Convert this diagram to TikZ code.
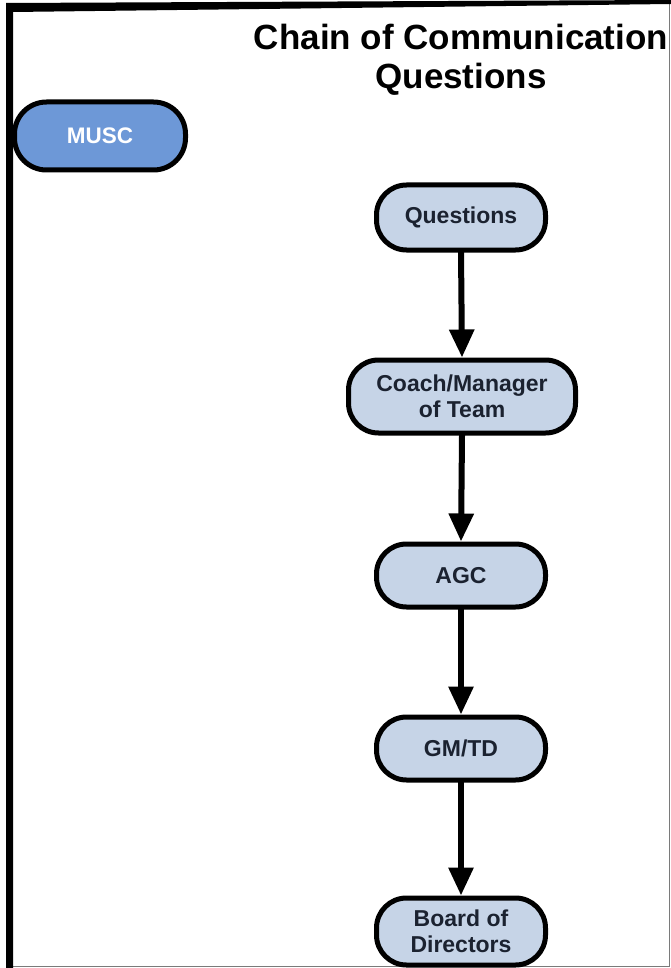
\documentclass[tikz,border=0pt]{standalone}
\usepackage{fontspec}
\setmainfont{Liberation Sans}
\usetikzlibrary{arrows.meta}
\definecolor{lightfill}{HTML}{C6D4E7}
\definecolor{muscfill}{HTML}{6D98D7}
\definecolor{navytext}{HTML}{1B2230}
\definecolor{framegray}{HTML}{7A7A7A}
\tikzset{
  chainbox/.style={draw=black, line width=5pt, fill=lightfill, rounded corners=30pt,
    text=navytext, font=\fontsize{23}{26}\selectfont\bfseries, align=center,
    minimum width=169pt, inner sep=0pt},
  muscbox/.style={draw=black, line width=5pt, fill=muscfill, rounded corners=32pt,
    text=white, font=\fontsize{22.5}{26}\selectfont\bfseries,
    minimum width=171pt, minimum height=68pt, inner sep=0pt},
  chainarrow/.style={line width=6pt, -{Triangle[width=24pt,length=28pt]}, shorten <=-1pt},
  titletext/.style={font=\fontsize{35}{39}\selectfont\bfseries, align=center, text=black, inner sep=0pt}
}
\begin{document}
\begin{tikzpicture}[x=1pt,y=-1pt]
\useasboundingbox (0,0) rectangle (671,968);
\fill[white] (0,0) rectangle (671,968);
% frame
\draw[framegray, line width=1.5pt] (13,966.5) -- (669.5,966.5) -- (669.5,3);
\fill[black] (6,3) -- (671,0) -- (671,4) -- (13,12) -- (13,968) -- (6,968) -- cycle;
% title
\node[titletext] (title) at (461,60) {Chain of Communication\\Questions};
% nodes
\node[muscbox] (musc) at (100,136) {MUSC};
\node[chainbox, minimum height=65pt] (q) at (461,217.5) {Questions};
\node[chainbox, minimum width=227pt, minimum height=73pt] (coach) at (462,396.5) {Coach/Manager\\of Team};
\node[chainbox, minimum height=63pt] (agc) at (461,575.5) {AGC};
\node[chainbox, minimum height=63pt] (gm) at (461,748.5) {GM/TD};
\node[chainbox, minimum height=67pt] (board) at (461,931.5) {Board of\\Directors};
% arrows
\draw[chainarrow] (q.south) -- (coach.north);
\draw[chainarrow] (coach.south) -- (agc.north);
\draw[chainarrow] (agc.south) -- (gm.north);
\draw[chainarrow] (gm.south) -- (board.north);
\end{tikzpicture}
\end{document}
